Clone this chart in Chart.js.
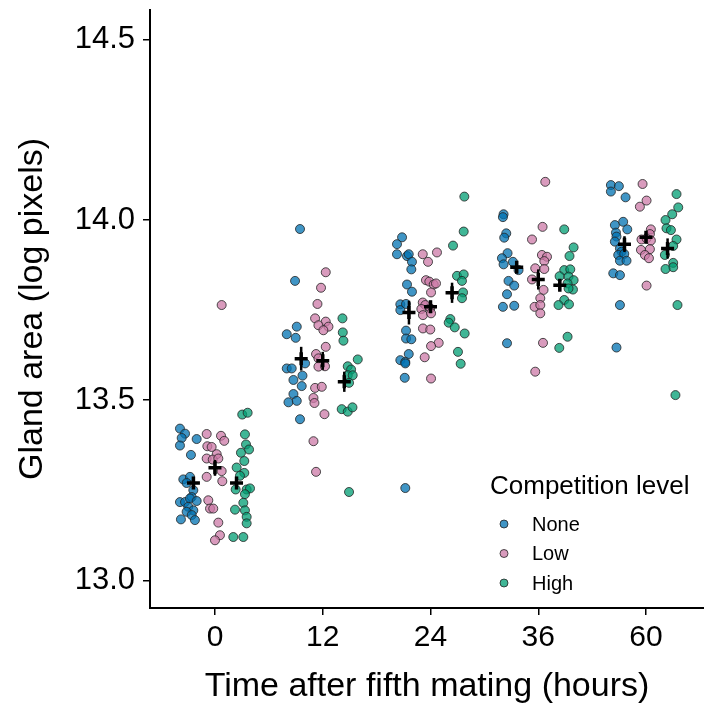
<!DOCTYPE html>
<html>
<head>
<meta charset="utf-8">
<script src="https://cdn.jsdelivr.net/npm/chart.js@4"></script>
<style>
  html, body { margin: 0; padding: 0; background: #fff; }
  #wrap { width: 704px; height: 709px; }
</style>
</head>
<body>
<div id="wrap"><canvas id="glandChart" width="704" height="709"></canvas></div>
<script>
// categories and tick labels
const timeLabels = ['0', '12', '24', '36', '60'];
const yTicks = [13.0, 13.5, 14.0, 14.5];
const groupNames = ['None', 'Low', 'High'];

// individual glands, [x position on the time axis, log area]
const nonePoints = [
    [-0.325,13.421],[-0.278,13.407],[-0.309,13.395],[-0.170,13.392],[-0.325,13.374],[-0.223,13.348],[-0.294,13.280],
    [-0.232,13.287],[-0.263,13.270],[-0.201,13.250],[-0.216,13.231],[-0.325,13.217],[-0.278,13.217],[-0.232,13.227],
    [-0.170,13.220],[-0.248,13.204],[-0.201,13.194],[-0.263,13.190],[-0.216,13.181],[-0.316,13.169],[-0.186,13.167],
    [0.789,13.975],[0.743,13.831],[0.759,13.704],[0.666,13.683],[0.749,13.673],[0.666,13.588],[0.712,13.588],
    [0.836,13.602],[0.812,13.568],[0.728,13.556],[0.805,13.539],[0.728,13.517],[0.682,13.494],[0.759,13.498],[0.789,13.447],
    [1.736,13.952],[1.689,13.933],[1.689,13.905],[1.782,13.900],[1.798,13.905],[1.828,13.884],[1.822,13.863],
    [1.782,13.821],[1.828,13.801],[1.720,13.766],[1.720,13.750],[1.773,13.767],[1.773,13.693],[1.773,13.671],
    [1.822,13.669],[1.798,13.628],[1.720,13.611],[1.766,13.606],[1.766,13.602],[1.761,13.562],[1.766,13.256],
    [2.678,14.016],[2.672,14.008],[2.703,13.963],[2.684,13.951],[2.715,13.908],[2.663,13.894],[2.678,13.877],
    [2.765,13.884],[2.817,13.861],[2.724,13.831],[2.777,13.818],[2.710,13.794],[2.672,13.759],[2.777,13.762],[2.710,13.658],
    [3.674,14.097],[3.748,14.094],[3.674,14.079],[3.810,14.063],[3.711,13.986],[3.788,13.995],[3.826,13.974],
    [3.721,13.965],[3.726,13.954],[3.711,13.940],[3.758,13.921],[3.773,13.912],[3.742,13.903],[3.798,13.906],
    [3.758,13.887],[3.819,13.887],[3.696,13.852],[3.758,13.847],[3.758,13.764],[3.726,13.646]
];
const lowPoints = [
    [0.062,13.764],[-0.077,13.406],[0.056,13.401],[0.086,13.387],[-0.071,13.372],[-0.031,13.370],[0.016,13.350],
    [-0.077,13.338],[-0.021,13.335],[0.031,13.338],[0.062,13.303],[-0.077,13.287],[0.068,13.275],[-0.062,13.222],
    [-0.046,13.199],[-0.016,13.199],[0.031,13.160],[0.046,13.125],[0.000,13.111],
    [1.028,13.855],[0.984,13.812],[0.951,13.767],[0.929,13.727],[1.028,13.718],[0.960,13.708],[1.053,13.704],
    [1.006,13.694],[1.028,13.648],[0.938,13.628],[0.960,13.616],[0.960,13.593],[1.021,13.594],[0.929,13.534],
    [0.991,13.537],[0.914,13.506],[0.923,13.492],[1.016,13.461],[0.914,13.386],[0.938,13.301],
    [1.928,13.905],[2.060,13.910],[1.977,13.884],[1.958,13.833],[1.989,13.829],[2.030,13.821],[2.051,13.824],
    [2.005,13.799],[1.928,13.771],[1.952,13.764],[1.915,13.753],[1.998,13.755],[1.930,13.736],[2.005,13.741],
    [1.930,13.699],[1.998,13.696],[2.076,13.659],[2.005,13.650],[1.946,13.619],[2.005,13.560],
    [3.065,14.106],[3.040,13.981],[2.942,13.946],[3.034,13.903],[3.081,13.898],[3.056,13.886],[2.972,13.866],
    [3.056,13.864],[2.942,13.835],[3.049,13.806],[3.019,13.783],[2.966,13.759],[3.019,13.764],[3.019,13.741],
    [3.044,13.659],[2.972,13.579],
    [3.968,14.100],[4.005,14.054],[3.943,14.037],[4.045,13.974],[4.036,13.961],[3.958,13.946],[4.005,13.949],
    [4.045,13.943],[3.953,13.917],[4.036,13.919],[3.990,13.903],[4.027,13.894],[4.005,13.818]
];
const highPoints = [
    [0.253,13.460],[0.303,13.465],[0.278,13.405],[0.288,13.377],[0.316,13.363],[0.241,13.354],[0.272,13.331],
    [0.201,13.313],[0.272,13.298],[0.232,13.290],[0.294,13.252],[0.325,13.255],[0.192,13.252],[0.278,13.239],
    [0.263,13.215],[0.186,13.196],[0.278,13.194],[0.294,13.176],[0.294,13.158],[0.170,13.120],[0.263,13.120],
    [1.183,13.727],[1.186,13.688],[1.192,13.665],[1.325,13.613],[1.232,13.594],[1.263,13.585],[1.232,13.569],
    [1.278,13.569],[1.244,13.548],[1.176,13.475],[1.232,13.468],[1.276,13.480],[1.244,13.245],
    [2.314,14.065],[2.308,13.968],[2.209,13.929],[2.246,13.845],[2.308,13.849],[2.292,13.831],[2.302,13.799],
    [2.292,13.783],[2.184,13.725],[2.169,13.715],[2.225,13.702],[2.317,13.685],[2.255,13.634],[2.280,13.601],
    [3.241,13.974],[3.328,13.924],[3.290,13.900],[3.241,13.861],[3.297,13.863],[3.198,13.844],[3.281,13.843],
    [3.328,13.833],[3.272,13.824],[3.322,13.807],[3.281,13.810],[3.241,13.778],[3.188,13.764],[3.285,13.766],
    [3.272,13.676],[3.195,13.645],
    [4.283,14.072],[4.299,14.035],[4.243,14.016],[4.181,14.000],[4.190,13.977],[4.231,13.972],[4.283,13.946],
    [4.252,13.928],[4.175,13.903],[4.252,13.881],[4.252,13.869],[4.181,13.864],[4.292,13.764],[4.273,13.514]
];

// group means and standard errors per time point
const noneMean = [13.270, 13.615, 13.743, 13.869, 13.933];
const noneSE   = [0.014, 0.033, 0.033, 0.014, 0.022];
const lowMean  = [13.312, 13.609, 13.759, 13.835, 13.952];
const lowSE    = [0.022, 0.025, 0.017, 0.028, 0.011];
const highMean = [13.270, 13.551, 13.798, 13.819, 13.921];
const highSE   = [0.017, 0.028, 0.028, 0.014, 0.028];

const FONT = '"Liberation Sans", Arial, sans-serif';
const fills = ['rgba(0, 114, 178, 0.75)', 'rgba(204, 121, 167, 0.75)', 'rgba(0, 158, 115, 0.75)'];
const edge = 'rgba(35, 35, 35, 0.8)';
const dodge = [-0.2, 0, 0.2];

function toXY(pts) {
    return pts.map(p => ({ x: p[0], y: p[1] }));
}

function meanData(means, ses, g) {
    return means.map((m, i) => ({ x: i + dodge[g], y: m, se: ses[i] }));
}

function pointSet(label, pts, g) {
    return {
        label: label,
        data: toXY(pts),
        backgroundColor: fills[g],
        borderColor: edge,
        borderWidth: 1,
        pointRadius: 4.5,
        order: 1
    };
}

function meanSet(label, means, ses, g) {
    return {
        label: label + ' mean',
        data: meanData(means, ses, g),
        pointStyle: 'cross',
        pointRadius: 6.5,
        borderColor: '#000',
        borderWidth: 3.5,
        order: 0
    };
}

// no extra room for the outer tick labels, the plot fills the canvas edge
function noEdgePadding(scale) {
    scale.paddingTop = 0;
    scale.paddingBottom = 0;
    scale.paddingLeft = 0;
    scale.paddingRight = 0;
}

// vertical error bars around the means
const errorBars = {
    id: 'errorBars',
    afterDatasetsDraw(chart) {
        const ctx = chart.ctx;
        const xs = chart.scales.x, ys = chart.scales.y;
        ctx.save();
        ctx.strokeStyle = '#000';
        ctx.lineWidth = 2.5;
        chart.data.datasets.forEach(ds => {
            if (ds.order !== 0) return;
            ds.data.forEach(d => {
                const px = xs.getPixelForValue(d.x);
                ctx.beginPath();
                ctx.moveTo(px, ys.getPixelForValue(d.y - d.se));
                ctx.lineTo(px, ys.getPixelForValue(d.y + d.se));
                ctx.stroke();
            });
        });
        ctx.restore();
    }
};

// legend inside the plot, lower right
const insideLegend = {
    id: 'insideLegend',
    afterDraw(chart) {
        const ctx = chart.ctx;
        ctx.save();
        ctx.fillStyle = '#000';
        ctx.textBaseline = 'alphabetic';
        ctx.font = '26px ' + FONT;
        ctx.fillText('Competition level', 490, 494);
        ctx.font = '20px ' + FONT;
        ctx.textBaseline = 'middle';
        groupNames.forEach((name, g) => {
            const y = 524 + g * 29.5;
            ctx.beginPath();
            ctx.arc(504, y, 4, 0, Math.PI * 2);
            ctx.fillStyle = fills[g];
            ctx.fill();
            ctx.lineWidth = 1;
            ctx.strokeStyle = edge;
            ctx.stroke();
            ctx.fillStyle = '#000';
            ctx.fillText(name, 532, y + 1);
        });
        ctx.restore();
    }
};

const ctx = document.getElementById('glandChart').getContext('2d');
new Chart(ctx, {
    type: 'scatter',
    data: {
        datasets: [
            meanSet('None', noneMean, noneSE, 0),
            meanSet('Low', lowMean, lowSE, 1),
            meanSet('High', highMean, highSE, 2),
            pointSet('None', nonePoints, 0),
            pointSet('Low', lowPoints, 1),
            pointSet('High', highPoints, 2)
        ]
    },
    options: {
        responsive: false,
        animation: false,
        layout: {
            autoPadding: false,
            padding: { top: 10, right: 0, bottom: 0, left: 0 }
        },
        plugins: {
            legend: { display: false },
            tooltip: { enabled: false }
        },
        scales: {
            x: {
                type: 'linear',
                min: -0.603,
                max: 4.538,
                afterBuildTicks: scale => {
                    scale.ticks = timeLabels.map((t, i) => ({ value: i }));
                },
                afterFit: scale => {
                    scale.height = 101;
                    noEdgePadding(scale);
                },
                ticks: {
                    callback: v => timeLabels[v],
                    color: '#000',
                    font: { family: FONT, size: 30 },
                    padding: 5,
                    maxRotation: 0
                },
                grid: {
                    display: true,
                    drawOnChartArea: false,
                    drawTicks: true,
                    tickLength: 7,
                    color: '#000',
                    lineWidth: 1.5
                },
                border: { display: true, color: '#000', width: 2 },
                title: {
                    display: true,
                    text: 'Time after fifth mating (hours)',
                    color: '#000',
                    font: { family: FONT, size: 34 },
                    padding: { top: 0, bottom: 2 }
                }
            },
            y: {
                min: 12.923,
                max: 14.583,
                afterBuildTicks: scale => {
                    scale.ticks = yTicks.map(v => ({ value: v }));
                },
                afterFit: scale => {
                    scale.width = 150;
                    noEdgePadding(scale);
                },
                ticks: {
                    callback: v => v.toFixed(1),
                    color: '#000',
                    font: { family: FONT, size: 31 },
                    padding: 8
                },
                grid: {
                    display: true,
                    drawOnChartArea: false,
                    drawTicks: true,
                    tickLength: 7,
                    color: '#000',
                    lineWidth: 1.5
                },
                border: { display: true, color: '#000', width: 2 },
                title: {
                    display: true,
                    text: 'Gland area (log pixels)',
                    color: '#000',
                    font: { family: FONT, size: 34 },
                    padding: { top: 12, bottom: 0 }
                }
            }
        }
    },
    plugins: [errorBars, insideLegend]
});
</script>
</body>
</html>
